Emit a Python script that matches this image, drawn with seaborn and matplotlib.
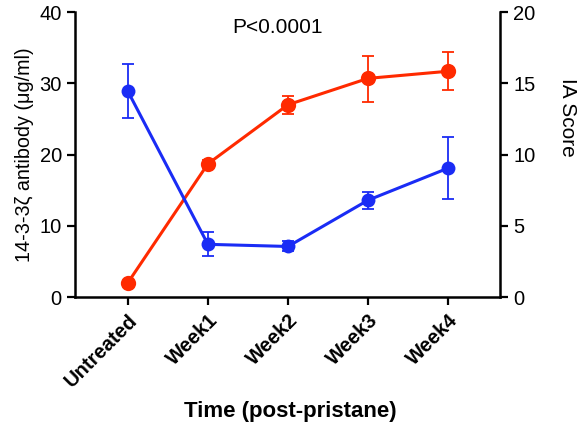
import numpy as np
import pandas as pd
import matplotlib
matplotlib.use("Agg")
import matplotlib.pyplot as plt
import seaborn as sns

# data
groups = ["Untreated", "Week1", "Week2", "Week3", "Week4"]

# 14-3-3 zeta antibody (left axis, ug/ml)
ab_mean = [28.9, 7.4, 7.1, 13.6, 18.1]
ab_low = [25.2, 5.7, 6.4, 12.4, 13.8]
ab_high = [32.7, 9.1, 7.8, 14.8, 22.4]

# IA score (right axis)
ia_mean = [1.0, 9.35, 13.5, 15.35, 15.85]
ia_low = [1.0, 9.05, 12.85, 13.7, 14.5]
ia_high = [1.0, 9.65, 14.1, 16.95, 17.2]

blue = "#1a2cf5"
red = "#ff2a00"

sns.set_style("ticks")
plt.rcParams["font.family"] = ["Liberation Sans", "DejaVu Sans"]
plt.rcParams["text.color"] = "black"
plt.rcParams["axes.labelcolor"] = "black"
plt.rcParams["xtick.color"] = "black"
plt.rcParams["ytick.color"] = "black"
plt.rcParams["axes.edgecolor"] = "black"

df = pd.DataFrame({"pos": np.arange(len(groups)), "group": groups,
                   "ab": ab_mean, "ia": ia_mean})

fig = plt.figure(figsize=(5.81, 4.33), dpi=100)
ax = fig.add_axes([0.129, 0.314, 0.732, 0.658])
ax2 = ax.twinx()

# red series on right axis
sns.lineplot(data=df, x="pos", y="ia", ax=ax2, color=red, marker="o",
             markersize=11, markeredgewidth=0, linewidth=2.2)
ia_err = [np.array(ia_mean) - np.array(ia_low), np.array(ia_high) - np.array(ia_mean)]
ax2.errorbar(df["pos"], ia_mean, yerr=ia_err, fmt="none", ecolor=red,
             elinewidth=1.3, capsize=4.5, capthick=1.3)

# blue series on left axis
sns.lineplot(data=df, x="pos", y="ab", ax=ax, color=blue, marker="o",
             markersize=10, markeredgewidth=0, linewidth=2.2)
ab_err = [np.array(ab_mean) - np.array(ab_low), np.array(ab_high) - np.array(ab_mean)]
ax.errorbar(df["pos"], ab_mean, yerr=ab_err, fmt="none", ecolor=blue,
            elinewidth=1.3, capsize=4.5, capthick=1.3)

# blue drawn above red
ax.set_zorder(ax2.get_zorder() + 1)
ax.patch.set_visible(False)

ax.set_xlim(-0.66, 4.65)
ax.set_ylim(0, 40)
ax2.set_ylim(0, 20)
ax.set_yticks([0, 10, 20, 30, 40])
ax2.set_yticks([0, 5, 10, 15, 20])
ax.set_xticks(df["pos"])
ax.set_xticklabels(groups, rotation=45, ha="right", rotation_mode="anchor",
                   fontweight="bold", fontsize=14)

for a in (ax, ax2):
    a.spines["top"].set_visible(False)
    for s in a.spines.values():
        s.set_linewidth(1.8)
    a.tick_params(width=1.6, length=6, labelsize=14.5)
ax.spines["right"].set_visible(False)
ax2.spines["left"].set_visible(False)
ax2.spines["bottom"].set_visible(False)
ax.tick_params(axis="x", pad=4)

ax.set_xlabel("Time (post-pristane)", fontsize=16, fontweight="bold")
ax.xaxis.set_label_coords(0.506, -0.40)
ax.xaxis.label.set_va("center")
ax.set_ylabel("14-3-3\u03b6 antibody (\u03bcg/ml)", fontsize=14.2)
ax.yaxis.set_label_coords(-0.118, 0.5)
ax.yaxis.label.set_va("center")
ax2.set_ylabel("IA Score", fontsize=15, rotation=270, va="center")
ax2.yaxis.set_label_coords(1.158, 0.63)

ax.text(1.875, 37.9, "P<0.0001", fontsize=15, ha="center", va="center")

fig.savefig("out.png", dpi=100)
